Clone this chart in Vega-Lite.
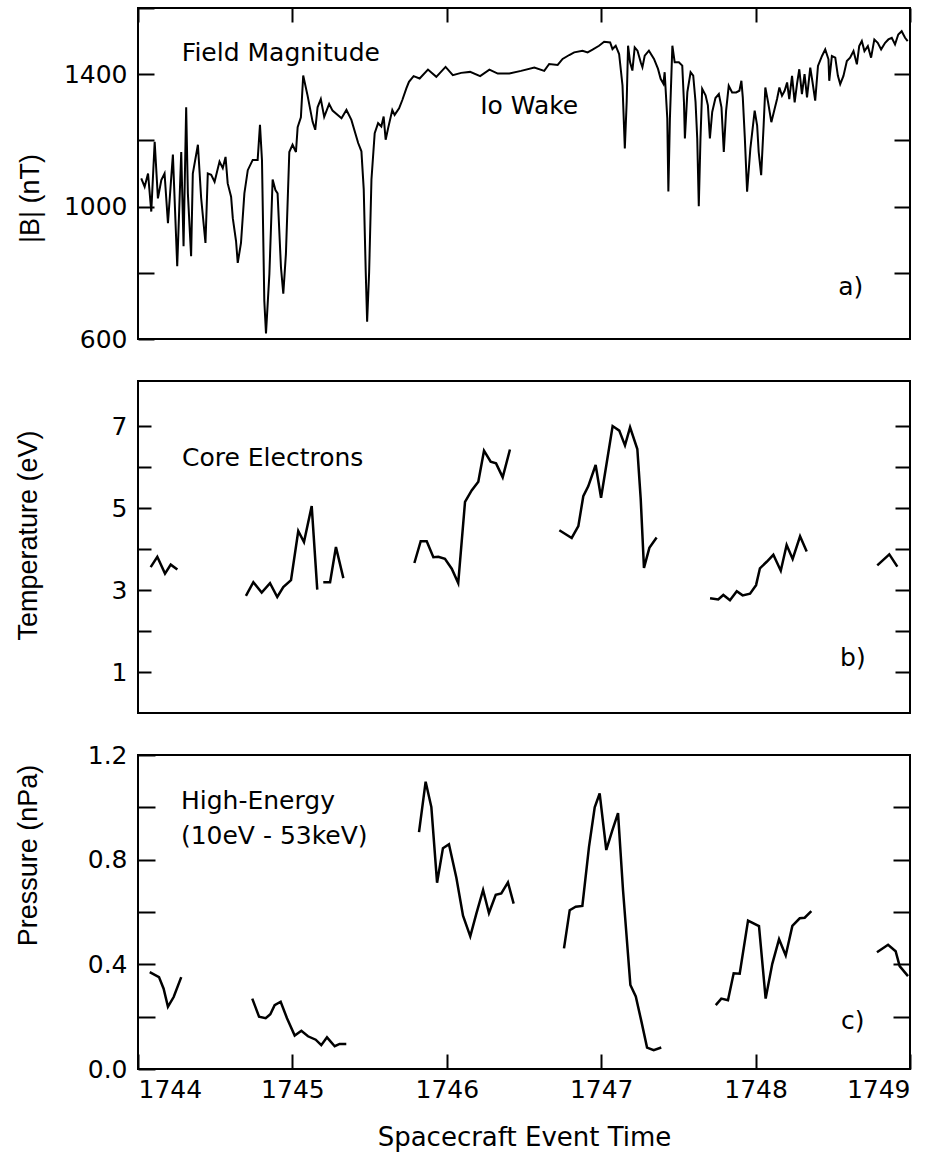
{
  "$schema": "https://vega.github.io/schema/vega-lite/v6.json",
  "background": "white",
  "padding": {"left": 13, "top": 6, "right": 10, "bottom": 5},
  "config": {
    "view": {"stroke": "black", "strokeWidth": 2},
    "axis": {"grid": false, "domain": false, "tickColor": "black", "tickWidth": 2, "labelColor": "black", "titleColor": "black", "labelFont": "DejaVu Sans", "labelFontSize": 25, "titleFont": "Liberation Sans", "titleFontSize": 27, "titleFontWeight": "normal"},
    "text": {"font": "DejaVu Sans", "fontSize": 25, "color": "black"}
  },
  "datasets": {
    "bmag": [
      {"t":1744.021,"b":1085},{"t":1744.043,"b":1060},{"t":1744.065,"b":1100},{"t":1744.086,"b":985},{"t":1744.108,"b":1196},{"t":1744.129,"b":1025},{"t":1744.151,"b":1080},{"t":1744.172,"b":1100},{"t":1744.194,"b":950},{"t":1744.226,"b":1157},{"t":1744.254,"b":820},{"t":1744.280,"b":1165},{"t":1744.295,"b":880},{"t":1744.312,"b":1300},{"t":1744.323,"b":1040},{"t":1744.344,"b":850},{"t":1744.355,"b":1100},{"t":1744.388,"b":1187},{"t":1744.409,"b":1026},{"t":1744.437,"b":890},{"t":1744.452,"b":1100},{"t":1744.474,"b":1096},{"t":1744.496,"b":1075},{"t":1744.528,"b":1136},{"t":1744.549,"b":1116},{"t":1744.567,"b":1150},{"t":1744.581,"b":1070},{"t":1744.603,"b":1030},{"t":1744.614,"b":965},{"t":1744.635,"b":896},{"t":1744.646,"b":830},{"t":1744.667,"b":890},{"t":1744.689,"b":1040},{"t":1744.711,"b":1110},{"t":1744.743,"b":1141},{"t":1744.775,"b":1141},{"t":1744.790,"b":1247},{"t":1744.803,"b":1140},{"t":1744.818,"b":716},{"t":1744.829,"b":617},{"t":1744.851,"b":797},{"t":1744.872,"b":1082},{"t":1744.890,"b":1050},{"t":1744.904,"b":1040},{"t":1744.926,"b":816},{"t":1744.941,"b":737},{"t":1744.958,"b":857},{"t":1744.980,"b":1165},{"t":1745.001,"b":1187},{"t":1745.023,"b":1165},{"t":1745.034,"b":1240},{"t":1745.055,"b":1270},{"t":1745.070,"b":1396},{"t":1745.098,"b":1336},{"t":1745.131,"b":1256},{"t":1745.148,"b":1232},{"t":1745.163,"b":1300},{"t":1745.184,"b":1325},{"t":1745.206,"b":1271},{"t":1745.238,"b":1310},{"t":1745.260,"b":1290},{"t":1745.318,"b":1267},{"t":1745.350,"b":1292},{"t":1745.382,"b":1262},{"t":1745.426,"b":1192},{"t":1745.447,"b":1167},{"t":1745.462,"b":1052},{"t":1745.475,"b":802},{"t":1745.484,"b":652},{"t":1745.497,"b":802},{"t":1745.512,"b":1082},{"t":1745.533,"b":1222},{"t":1745.555,"b":1252},{"t":1745.576,"b":1242},{"t":1745.591,"b":1272},{"t":1745.604,"b":1202},{"t":1745.620,"b":1237},{"t":1745.647,"b":1292},{"t":1745.662,"b":1277},{"t":1745.691,"b":1297},{"t":1745.712,"b":1322},{"t":1745.738,"b":1357},{"t":1745.755,"b":1377},{"t":1745.785,"b":1394},{"t":1745.824,"b":1387},{"t":1745.878,"b":1414},{"t":1745.932,"b":1392},{"t":1745.992,"b":1422},{"t":1746.039,"b":1397},{"t":1746.093,"b":1404},{"t":1746.151,"b":1407},{"t":1746.216,"b":1394},{"t":1746.276,"b":1414},{"t":1746.330,"b":1402},{"t":1746.405,"b":1402},{"t":1746.481,"b":1410},{"t":1746.567,"b":1420},{"t":1746.631,"b":1410},{"t":1746.663,"b":1431},{"t":1746.718,"b":1428},{"t":1746.750,"b":1446},{"t":1746.793,"b":1458},{"t":1746.825,"b":1466},{"t":1746.879,"b":1471},{"t":1746.912,"b":1466},{"t":1746.944,"b":1474},{"t":1746.986,"b":1486},{"t":1747.019,"b":1498},{"t":1747.058,"b":1496},{"t":1747.073,"b":1476},{"t":1747.094,"b":1486},{"t":1747.116,"b":1461},{"t":1747.138,"b":1366},{"t":1747.153,"b":1176},{"t":1747.165,"b":1316},{"t":1747.174,"b":1486},{"t":1747.187,"b":1436},{"t":1747.202,"b":1411},{"t":1747.217,"b":1481},{"t":1747.235,"b":1471},{"t":1747.256,"b":1436},{"t":1747.267,"b":1421},{"t":1747.282,"b":1456},{"t":1747.309,"b":1471},{"t":1747.342,"b":1446},{"t":1747.368,"b":1416},{"t":1747.385,"b":1386},{"t":1747.403,"b":1371},{"t":1747.411,"b":1406},{"t":1747.428,"b":1266},{"t":1747.435,"b":1046},{"t":1747.445,"b":1266},{"t":1747.461,"b":1486},{"t":1747.476,"b":1436},{"t":1747.503,"b":1436},{"t":1747.525,"b":1426},{"t":1747.536,"b":1316},{"t":1747.542,"b":1206},{"t":1747.558,"b":1346},{"t":1747.579,"b":1406},{"t":1747.596,"b":1396},{"t":1747.611,"b":1316},{"t":1747.622,"b":1206},{"t":1747.632,"b":1001},{"t":1747.643,"b":1206},{"t":1747.654,"b":1356},{"t":1747.676,"b":1336},{"t":1747.691,"b":1306},{"t":1747.704,"b":1206},{"t":1747.719,"b":1286},{"t":1747.740,"b":1328},{"t":1747.762,"b":1340},{"t":1747.779,"b":1300},{"t":1747.794,"b":1165},{"t":1747.809,"b":1290},{"t":1747.826,"b":1365},{"t":1747.848,"b":1345},{"t":1747.874,"b":1345},{"t":1747.895,"b":1350},{"t":1747.908,"b":1380},{"t":1747.917,"b":1330},{"t":1747.930,"b":1210},{"t":1747.945,"b":1045},{"t":1747.966,"b":1175},{"t":1747.994,"b":1290},{"t":1748.010,"b":1245},{"t":1748.020,"b":1165},{"t":1748.036,"b":1095},{"t":1748.052,"b":1245},{"t":1748.063,"b":1360},{"t":1748.081,"b":1315},{"t":1748.102,"b":1255},{"t":1748.123,"b":1295},{"t":1748.139,"b":1325},{"t":1748.154,"b":1360},{"t":1748.171,"b":1335},{"t":1748.188,"b":1350},{"t":1748.204,"b":1375},{"t":1748.218,"b":1325},{"t":1748.236,"b":1395},{"t":1748.253,"b":1315},{"t":1748.268,"b":1370},{"t":1748.283,"b":1415},{"t":1748.300,"b":1340},{"t":1748.317,"b":1400},{"t":1748.333,"b":1330},{"t":1748.354,"b":1420},{"t":1748.369,"b":1375},{"t":1748.386,"b":1320},{"t":1748.404,"b":1425},{"t":1748.430,"b":1455},{"t":1748.451,"b":1475},{"t":1748.472,"b":1445},{"t":1748.477,"b":1380},{"t":1748.494,"b":1455},{"t":1748.516,"b":1450},{"t":1748.533,"b":1395},{"t":1748.548,"b":1370},{"t":1748.569,"b":1395},{"t":1748.591,"b":1440},{"t":1748.612,"b":1450},{"t":1748.634,"b":1470},{"t":1748.656,"b":1430},{"t":1748.671,"b":1485},{"t":1748.688,"b":1500},{"t":1748.705,"b":1470},{"t":1748.727,"b":1485},{"t":1748.748,"b":1450},{"t":1748.769,"b":1505},{"t":1748.791,"b":1495},{"t":1748.813,"b":1475},{"t":1748.839,"b":1495},{"t":1748.860,"b":1505},{"t":1748.882,"b":1510},{"t":1748.903,"b":1490},{"t":1748.924,"b":1520},{"t":1748.946,"b":1530},{"t":1748.968,"b":1510},{"t":1748.985,"b":1500}
    ],
    "temp": [
      {"s":1,"t":1744.082,"v":3.56},{"s":1,"t":1744.125,"v":3.81},{"s":1,"t":1744.175,"v":3.40},{"s":1,"t":1744.212,"v":3.62},{"s":1,"t":1744.255,"v":3.50},
      {"s":2,"t":1744.699,"v":2.86},{"s":2,"t":1744.747,"v":3.19},{"s":2,"t":1744.801,"v":2.94},{"s":2,"t":1744.855,"v":3.17},{"s":2,"t":1744.902,"v":2.83},{"s":2,"t":1744.941,"v":3.07},{"s":2,"t":1744.991,"v":3.24},{"s":2,"t":1745.038,"v":4.44},{"s":2,"t":1745.075,"v":4.17},{"s":2,"t":1745.125,"v":5.05},{"s":2,"t":1745.161,"v":3.01},
      {"s":3,"t":1745.200,"v":3.19},{"s":3,"t":1745.244,"v":3.19},{"s":3,"t":1745.282,"v":4.05},{"s":3,"t":1745.330,"v":3.29},
      {"s":4,"t":1745.790,"v":3.66},{"s":4,"t":1745.831,"v":4.19},{"s":4,"t":1745.870,"v":4.19},{"s":4,"t":1745.913,"v":3.80},{"s":4,"t":1745.945,"v":3.81},{"s":4,"t":1745.988,"v":3.76},{"s":4,"t":1746.032,"v":3.52},{"s":4,"t":1746.074,"v":3.17},{"s":4,"t":1746.118,"v":5.15},{"s":4,"t":1746.161,"v":5.43},{"s":4,"t":1746.204,"v":5.64},{"s":4,"t":1746.241,"v":6.40},{"s":4,"t":1746.284,"v":6.13},{"s":4,"t":1746.319,"v":6.09},{"s":4,"t":1746.362,"v":5.75},{"s":4,"t":1746.409,"v":6.43},
      {"s":5,"t":1746.729,"v":4.46},{"s":5,"t":1746.809,"v":4.27},{"s":5,"t":1746.852,"v":4.56},{"s":5,"t":1746.884,"v":5.29},{"s":5,"t":1746.916,"v":5.53},{"s":5,"t":1746.964,"v":6.05},{"s":5,"t":1746.999,"v":5.25},{"s":5,"t":1747.036,"v":6.11},{"s":5,"t":1747.074,"v":7.00},{"s":5,"t":1747.117,"v":6.89},{"s":5,"t":1747.154,"v":6.53},{"s":5,"t":1747.187,"v":6.97},{"s":5,"t":1747.234,"v":6.44},{"s":5,"t":1747.256,"v":5.22},{"s":5,"t":1747.277,"v":3.54},{"s":5,"t":1747.312,"v":4.03},{"s":5,"t":1747.359,"v":4.28},
      {"s":6,"t":1747.705,"v":2.80},{"s":6,"t":1747.758,"v":2.77},{"s":6,"t":1747.791,"v":2.88},{"s":6,"t":1747.834,"v":2.75},{"s":6,"t":1747.878,"v":2.97},{"s":6,"t":1747.916,"v":2.87},{"s":6,"t":1747.964,"v":2.91},{"s":6,"t":1748.003,"v":3.12},{"s":6,"t":1748.028,"v":3.53},{"s":6,"t":1748.072,"v":3.69},{"s":6,"t":1748.115,"v":3.86},{"s":6,"t":1748.163,"v":3.47},{"s":6,"t":1748.201,"v":4.10},{"s":6,"t":1748.240,"v":3.76},{"s":6,"t":1748.288,"v":4.31},{"s":6,"t":1748.331,"v":3.94},
      {"s":7,"t":1748.788,"v":3.60},{"s":7,"t":1748.866,"v":3.87},{"s":7,"t":1748.918,"v":3.57}
    ],
    "pres": [
      {"s":1,"t":1744.076,"v":0.370},{"s":1,"t":1744.136,"v":0.351},{"s":1,"t":1744.166,"v":0.307},{"s":1,"t":1744.194,"v":0.238},{"s":1,"t":1744.231,"v":0.275},{"s":1,"t":1744.280,"v":0.351},
      {"s":2,"t":1744.740,"v":0.269},{"s":2,"t":1744.784,"v":0.200},{"s":2,"t":1744.827,"v":0.194},{"s":2,"t":1744.857,"v":0.209},{"s":2,"t":1744.885,"v":0.244},{"s":2,"t":1744.924,"v":0.257},{"s":2,"t":1744.965,"v":0.194},{"s":2,"t":1745.015,"v":0.128},{"s":2,"t":1745.058,"v":0.146},{"s":2,"t":1745.101,"v":0.125},{"s":2,"t":1745.151,"v":0.112},{"s":2,"t":1745.187,"v":0.091},{"s":2,"t":1745.224,"v":0.121},{"s":2,"t":1745.274,"v":0.087},{"s":2,"t":1745.306,"v":0.096},{"s":2,"t":1745.349,"v":0.096},
      {"s":3,"t":1745.820,"v":0.905},{"s":3,"t":1745.863,"v":1.098},{"s":3,"t":1745.900,"v":1.001},{"s":3,"t":1745.937,"v":0.712},{"s":3,"t":1745.975,"v":0.844},{"s":3,"t":1746.014,"v":0.859},{"s":3,"t":1746.062,"v":0.731},{"s":3,"t":1746.105,"v":0.586},{"s":3,"t":1746.152,"v":0.507},{"s":3,"t":1746.191,"v":0.593},{"s":3,"t":1746.235,"v":0.684},{"s":3,"t":1746.273,"v":0.596},{"s":3,"t":1746.317,"v":0.666},{"s":3,"t":1746.353,"v":0.671},{"s":3,"t":1746.396,"v":0.713},{"s":3,"t":1746.433,"v":0.632},
      {"s":4,"t":1746.759,"v":0.461},{"s":4,"t":1746.796,"v":0.607},{"s":4,"t":1746.835,"v":0.620},{"s":4,"t":1746.878,"v":0.623},{"s":4,"t":1746.921,"v":0.849},{"s":4,"t":1746.958,"v":1.000},{"s":4,"t":1746.990,"v":1.053},{"s":4,"t":1747.033,"v":0.837},{"s":4,"t":1747.072,"v":0.912},{"s":4,"t":1747.109,"v":0.978},{"s":4,"t":1747.141,"v":0.686},{"s":4,"t":1747.189,"v":0.321},{"s":4,"t":1747.224,"v":0.277},{"s":4,"t":1747.260,"v":0.183},{"s":4,"t":1747.297,"v":0.082},{"s":4,"t":1747.340,"v":0.072},{"s":4,"t":1747.389,"v":0.082},
      {"s":5,"t":1747.742,"v":0.244},{"s":5,"t":1747.778,"v":0.269},{"s":5,"t":1747.821,"v":0.263},{"s":5,"t":1747.858,"v":0.366},{"s":5,"t":1747.897,"v":0.364},{"s":5,"t":1747.951,"v":0.567},{"s":5,"t":1748.022,"v":0.546},{"s":5,"t":1748.065,"v":0.269},{"s":5,"t":1748.108,"v":0.402},{"s":5,"t":1748.152,"v":0.496},{"s":5,"t":1748.195,"v":0.434},{"s":5,"t":1748.238,"v":0.547},{"s":5,"t":1748.286,"v":0.576},{"s":5,"t":1748.318,"v":0.578},{"s":5,"t":1748.361,"v":0.603},
      {"s":6,"t":1748.786,"v":0.446},{"s":6,"t":1748.858,"v":0.475},{"s":6,"t":1748.907,"v":0.450},{"s":6,"t":1748.933,"v":0.393},{"s":6,"t":1748.987,"v":0.355}
    ],
    "annA": [
      {"t":1744.284,"v":1463,"txt":"Field Magnitude"},
      {"t":1746.216,"v":1304,"txt":"Io Wake"},
      {"t":1748.535,"v":758,"txt":"a)"}
    ],
    "annB": [
      {"t":1744.285,"v":6.22,"txt":"Core Electrons"},
      {"t":1748.547,"v":1.34,"txt":"b)"}
    ],
    "annC": [
      {"t":1744.278,"v":1.026,"txt":"High-Energy"},
      {"t":1744.278,"v":0.89,"txt":"(10eV - 53keV)"},
      {"t":1748.553,"v":0.185,"txt":"c)"}
    ]
  },
  "vconcat": [
    {
      "width": 772, "height": 331,
      "layer": [
        {
          "data": {"name": "bmag"},
          "mark": {"type": "line", "color": "black", "strokeWidth": 2},
          "encoding": {
            "x": {"field": "t", "type": "quantitative", "scale": {"domain": [1744, 1749], "nice": false, "zero": false},
                  "axis": {"orient": "top", "values": [1744, 1745, 1746, 1747, 1748, 1749], "labels": false, "title": null, "tickSize": -14}},
            "y": {"field": "b", "type": "quantitative", "scale": {"domain": [600, 1600], "nice": false, "zero": false},
                  "axis": {"values": [600, 800, 1000, 1200, 1400, 1600], "labelExpr": "datum.value % 400 == 200 ? datum.label : ''", "format": "d", "tickSize": -16, "labelPadding": 27, "title": "|B| (nT)", "titleX": -108, "titleY": 190, "titleAngle": 270, "titleAlign": "center", "titleBaseline": "middle"}}
          }
        },
        {
          "data": {"name": "annA"},
          "mark": {"type": "text", "align": "left", "baseline": "middle"},
          "encoding": {
            "x": {"field": "t", "type": "quantitative"},
            "y": {"field": "v", "type": "quantitative", "scale": {"domain": [600, 1600], "nice": false, "zero": false},
                  "axis": {"orient": "right", "values": [800, 1000, 1200, 1400], "labels": false, "title": null, "tickSize": -16}},
            "text": {"field": "txt"}
          }
        }
      ],
      "resolve": {"axis": {"y": "independent"}}
    },
    {
      "width": 772, "height": 332,
      "layer": [
        {
          "data": {"name": "temp"},
          "mark": {"type": "line", "color": "black", "strokeWidth": 2.5},
          "encoding": {
            "x": {"field": "t", "type": "quantitative", "scale": {"domain": [1744, 1749], "nice": false, "zero": false}, "axis": null},
            "y": {"field": "v", "type": "quantitative", "scale": {"domain": [0, 8.1], "nice": false},
                  "axis": {"values": [1, 2, 3, 4, 5, 6, 7], "labelExpr": "datum.value % 2 == 1 ? datum.label : ''", "tickSize": -13, "labelPadding": 24, "title": "Temperature (eV)", "titleX": -110, "titleY": 154, "titleAngle": 270, "titleAlign": "center", "titleBaseline": "middle"}},
            "detail": {"field": "s"}
          }
        },
        {
          "data": {"name": "annB"},
          "mark": {"type": "text", "align": "left", "baseline": "middle"},
          "encoding": {
            "x": {"field": "t", "type": "quantitative", "axis": null},
            "y": {"field": "v", "type": "quantitative", "scale": {"domain": [0, 8.1], "nice": false},
                  "axis": {"orient": "right", "values": [1, 2, 3, 4, 5, 6, 7], "labels": false, "title": null, "tickSize": -15}},
            "text": {"field": "txt"}
          }
        }
      ],
      "resolve": {"axis": {"y": "independent"}}
    },
    {
      "width": 772, "height": 314,
      "layer": [
        {
          "data": {"name": "pres"},
          "mark": {"type": "line", "color": "black", "strokeWidth": 2.5},
          "encoding": {
            "x": {"field": "t", "type": "quantitative", "scale": {"domain": [1744, 1749], "nice": false, "zero": false},
                  "axis": {"values": [1744, 1745, 1746, 1747, 1748, 1749], "format": "d", "tickSize": -15, "labelPadding": 23, "title": "Spacecraft Event Time", "titleFont": "DejaVu Sans", "titleFontSize": 26, "titlePadding": 22}},
            "y": {"field": "v", "type": "quantitative", "scale": {"domain": [0, 1.2], "nice": false},
                  "axis": {"values": [0, 0.2, 0.4, 0.6, 0.8, 1.0, 1.2], "labelExpr": "round(datum.value * 10) % 4 == 0 ? format(datum.value, '.1f') : ''", "tickSize": -17, "labelPadding": 28, "title": "Pressure (nPa)", "titleX": -110, "titleY": 100, "titleAngle": 270, "titleAlign": "center", "titleBaseline": "middle"}},
            "detail": {"field": "s"}
          }
        },
        {
          "data": {"name": "annC"},
          "mark": {"type": "text", "align": "left", "baseline": "middle"},
          "encoding": {
            "x": {"field": "t", "type": "quantitative"},
            "y": {"field": "v", "type": "quantitative", "scale": {"domain": [0, 1.2], "nice": false},
                  "axis": {"orient": "right", "values": [0.2, 0.4, 0.6, 0.8, 1.0], "labels": false, "title": null, "tickSize": -17}},
            "text": {"field": "txt"}
          }
        }
      ],
      "resolve": {"axis": {"y": "independent"}}
    }
  ],
  "spacing": 42,
  "bounds": "flush"
}
